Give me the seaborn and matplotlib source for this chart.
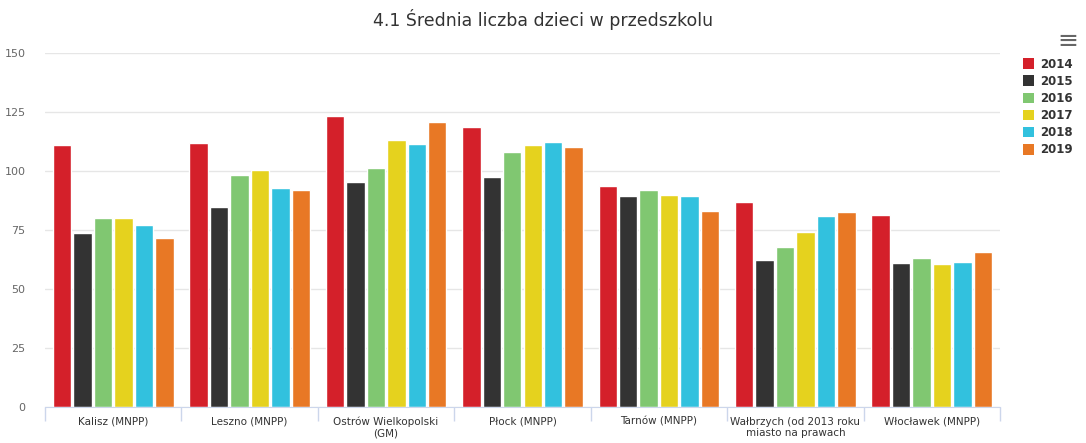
import pandas as pd
import seaborn as sns
import matplotlib.pyplot as plt
from matplotlib.patches import Patch

cities = ['Kalisz (MNPP)', 'Leszno (MNPP)', 'Ostrów Wielkopolski\n(GM)', 'Płock (MNPP)',
          'Tarnów (MNPP)', 'Wałbrzych (od 2013 roku\nmiasto na prawach', 'Włocławek (MNPP)']
years = ['2014', '2015', '2016', '2017', '2018', '2019']

v2014 = [111.0, 111.9, 123.4, 118.6, 93.8, 87.0, 81.4]
v2015 = [73.6, 84.6, 95.3, 97.3, 89.4, 62.2, 60.9]
v2016 = [80.0, 98.4, 101.1, 107.9, 91.8, 67.7, 63.1]
v2017 = [80.0, 100.4, 113.1, 111.2, 89.8, 74.3, 60.5]
v2018 = [77.0, 92.8, 111.6, 112.3, 89.4, 81.1, 61.3]
v2019 = [71.5, 91.8, 120.6, 110.3, 83.0, 82.6, 65.7]

colors = ['#d4202a', '#333333', '#80c771', '#e5d21e', '#32c1de', '#e87825']

# long table for seaborn
rows = []
for year, vals in zip(years, [v2014, v2015, v2016, v2017, v2018, v2019]):
    for city, v in zip(cities, vals):
        rows.append({'city': city, 'year': year, 'value': v})
df = pd.DataFrame(rows)

sns.set_style('white')
plt.rcParams['font.family'] = ['DejaVu Sans']

fig = plt.figure(figsize=(10.86, 4.43), dpi=100)
ax = fig.add_axes([45 / 1086, 36 / 443, 955 / 1086, 354 / 443])

sns.barplot(data=df, x='city', y='value', hue='year', palette=colors,
            width=0.9, gap=0.1, ax=ax, legend=False, saturation=1)

ax.set_ylim(0, 150)
ax.set_xlim(-0.5, len(cities) - 0.5)
ax.set_yticks([0, 25, 50, 75, 100, 125, 150])
ax.yaxis.grid(True, color='#e6e6e6', linewidth=1)
ax.set_axisbelow(True)
ax.set_xlabel('')
ax.set_ylabel('')

for side in ['top', 'right', 'left']:
    ax.spines[side].set_visible(False)
ax.spines['bottom'].set_color('#ccd6eb')

ax.tick_params(axis='y', length=0, pad=14, labelsize=8, labelcolor='#666666')
ax.set_xticks(range(len(cities)))
ax.set_xticklabels(cities, fontsize=7.5, color='#333333')
ax.tick_params(axis='x', length=0, pad=7)
# boundary ticks between categories
ax.set_xticks([i - 0.5 for i in range(len(cities) + 1)], minor=True)
ax.tick_params(axis='x', which='minor', bottom=True, length=10, color='#ccd6eb', width=1)

fig.text(0.5, 0.955, '4.1 Średnia liczba dzieci w przedszkolu', ha='center', va='center',
         fontsize=12.5, color='#333333')

handles = [Patch(facecolor=c, edgecolor='none') for c in colors]
leg = fig.legend(handles, years, loc='upper left', bbox_to_anchor=(1012 / 1086, 1 - 47 / 443),
                 frameon=False, handlelength=1.0, handleheight=1.0, handletextpad=0.5,
                 labelspacing=0.35, prop={'weight': 'bold', 'size': 8.5})
for t in leg.get_texts():
    t.set_color('#333333')

fig.text(1068 / 1086, 1 - 41 / 443, '≡', ha='center', va='center', fontsize=18, color='#666666')

fig.savefig('out.png', dpi=100)
